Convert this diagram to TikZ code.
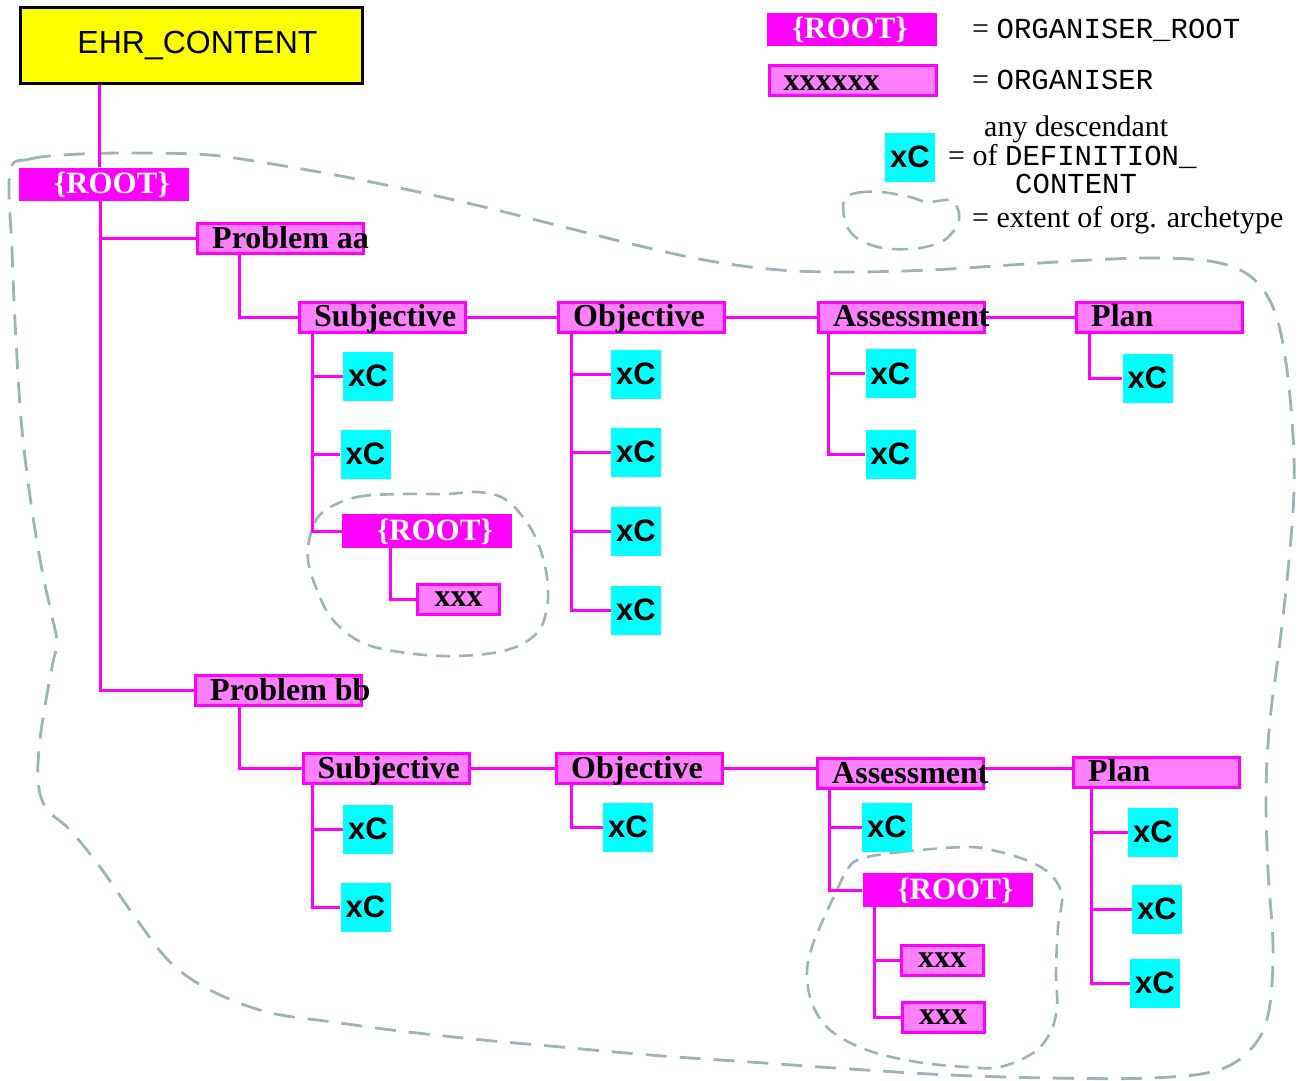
\documentclass[tikz,border=0pt]{standalone}
\usepackage{fontspec}
\setmainfont{Liberation Serif}
\setsansfont{Liberation Sans}
\setmonofont{Liberation Mono}
\definecolor{mag}{HTML}{FF00FF}
\definecolor{orgpink}{HTML}{FF80FF}
\definecolor{dcyan}{HTML}{00FFFF}
\definecolor{ehryellow}{HTML}{FFFF00}
\definecolor{extent}{HTML}{9AB4B8}
\newcommand\legmono{\ttfamily\fontsize{29}{34}\selectfont}

\begin{document}
\begin{tikzpicture}[x=1pt,y=-1pt,
  link/.style={draw=mag, line width=3pt},
  ehrbox/.style={draw=black, line width=3pt, fill=ehryellow, minimum width=342pt,
    minimum height=76pt, inner sep=0pt, font=\sffamily\fontsize{32}{38}\selectfont},
  rootbox/.style={fill=mag, minimum width=170pt, minimum height=33pt, inner sep=0pt},
  rootlbl/.style={anchor=base west, xshift=35pt, yshift=-9pt, inner sep=0pt,
    text=white, font=\rmfamily\bfseries\fontsize{31}{36}\selectfont},
  orgbox/.style={draw=mag, fill=orgpink, line width=3pt, minimum width=166pt,
    minimum height=30pt, inner sep=0pt},
  orglbl/.style={anchor=base west, xshift=16pt, yshift=-9.5pt, inner sep=0pt,
    font=\rmfamily\bfseries\fontsize{32}{36}\selectfont},
  leafbox/.style={draw=mag, fill=orgpink, line width=3pt, minimum width=82pt,
    minimum height=30pt, inner sep=0pt, font=\rmfamily\bfseries\fontsize{32}{36}\selectfont},
  xcbox/.style={fill=dcyan, minimum width=50pt, minimum height=49pt, inner sep=0pt,
    font=\sffamily\bfseries\fontsize{31}{36}\selectfont},
  extentline/.style={draw=extent, line width=2.8pt, dash pattern=on 21pt off 13pt},
  smallextent/.style={draw=extent, line width=2.6pt, dash pattern=on 14pt off 9pt},
  legtxt/.style={anchor=base west, inner sep=0pt, font=\rmfamily\fontsize{30}{34}\selectfont}
]
\useasboundingbox (0,0) rectangle (1303,1080);

% extent of the outer organiser archetype
\draw[extentline] plot[smooth cycle, tension=0.6] coordinates {
  (10,172) (30,159) (80,154) (150,153) (210,155) (260,162) (330,174) (400,188)
  (480,206) (560,226) (640,246) (710,261) (780,270) (850,272) (930,270) (1010,265)
  (1090,260) (1160,258) (1215,262) (1250,276) (1272,305) (1284,350) (1292,420)
  (1294,490) (1288,570) (1279,650) (1270,720) (1266,790) (1268,870) (1273,950)
  (1268,1015) (1250,1050) (1215,1071) (1150,1078) (1050,1078) (950,1075) (850,1069)
  (750,1062) (650,1055) (550,1046) (483,1040) (400,1031) (333,1022) (267,1012)
  (210,990) (170,962) (135,917) (100,867) (70,830) (46,808) (38,780) (40,740)
  (46,700) (53,662) (57,642) (51,612) (42,570) (32,510) (22,430) (16,340) (12,250)};

% extents of the two nested archetypes
\draw[smallextent] plot[smooth cycle, tension=0.6] coordinates {
  (323,512) (357,497) (407,494) (447,494) (477,492) (503,498) (523,517) (538,543)
  (547,577) (547,607) (537,633) (507,650) (457,656) (407,653) (363,643) (333,620)
  (317,590) (308,560) (311,533)};
\draw[smallextent] plot[smooth cycle, tension=0.6] coordinates {
  (860,859) (900,852) (967,847) (1000,852) (1033,863) (1053,877) (1062,897)
  (1058,927) (1056,973) (1057,1007) (1050,1033) (1033,1053) (1000,1067) (967,1067)
  (917,1062) (867,1050) (830,1030) (812,1003) (807,973) (812,947) (823,920)
  (837,890) (847,870)};

% legend
\node[rootbox, label={[rootlbl, xshift=-10pt]west:\{ROOT\}}] (LR) at (852,29) {};
\node[orgbox, minimum width=167pt, label={[orglbl]west:xxxxxx}] (LO) at (852.5,80.5) {};
\node[xcbox] (LX) at (910,157) {xC};
\draw[smallextent, dash pattern=on 16pt off 10pt] plot[smooth cycle, tension=0.6] coordinates {
  (844,200) (856,193) (881,192) (910,197) (927,202) (949,200) (957,207) (959,220)
  (952,233) (941,242) (920,248) (892,249) (871,245) (853,235) (845,220)};
\node[legtxt] (legroot) at (972,38) {= {\legmono ORGANISER\_ROOT}};
\node[legtxt] (legorg) at (972,89) {= {\legmono ORGANISER}};
\node[legtxt] (legdesc1) at (984,136) {any descendant};
\node[legtxt] (legdesc2) at (948,165) {= of {\legmono DEFINITION\_}};
\node[legtxt] (legdesc3) at (1015,193) {\legmono CONTENT};
\node[legtxt] (legext) at (972,227) {= extent of org. archetype};

% top of the tree
\node[ehrbox] (EHR) at (191.5,45.5) {\hspace*{12pt}EHR\_CONTENT};
\node[rootbox, label={[rootlbl]west:\{ROOT\}}] (R0) at (104,184) {};
\node[orgbox, label={[orglbl]west:Problem aa}] (Pa) at (280.5,238.5) {};
\node[orgbox, label={[orglbl]west:Problem bb}] (Pb) at (278.5,690.5) {};

% first problem
\node[orgbox, label={[orglbl]west:Subjective}] (S1) at (382.5,317) {};
\node[orgbox, label={[orglbl]west:Objective}] (O1) at (641.5,317) {};
\node[orgbox, label={[orglbl]west:Assessment}] (A1) at (901.5,317) {};
\node[orgbox, label={[orglbl]west:Plan}] (P1) at (1159.5,317) {};
\node[xcbox] (s1a) at (368,376) {xC};
\node[xcbox] (s1b) at (365.5,454) {xC};
\node[rootbox, minimum height=34pt, label={[rootlbl]west:\{ROOT\}}] (R1) at (427,531) {};
\node[leafbox] (X1) at (458.5,599) {xxx};
\node[xcbox] (o1a) at (636,374) {xC};
\node[xcbox] (o1b) at (636,452) {xC};
\node[xcbox] (o1c) at (636,531) {xC};
\node[xcbox] (o1d) at (636,610) {xC};
\node[xcbox] (a1a) at (890.5,373.5) {xC};
\node[xcbox] (a1b) at (890.5,454) {xC};
\node[xcbox] (p1a) at (1147.5,378) {xC};

% second problem
\node[orgbox, label={[orglbl]west:Subjective}] (S2) at (386,768.5) {};
\node[orgbox, label={[orglbl]west:Objective}] (O2) at (639.5,768.5) {};
\node[orgbox, label={[orglbl]west:Assessment}] (A2) at (900.5,773.5) {};
\node[orgbox, label={[orglbl]west:Plan}] (P2) at (1156.5,772) {};
\node[xcbox] (s2a) at (368,829) {xC};
\node[xcbox] (s2b) at (365.5,907) {xC};
\node[xcbox] (o2a) at (628,827) {xC};
\node[xcbox] (a2a) at (887,827) {xC};
\node[rootbox, minimum height=34pt, label={[rootlbl]west:\{ROOT\}}] (R2) at (947.5,890) {};
\node[leafbox] (X2) at (942,960) {xxx};
\node[leafbox] (X3) at (943,1017) {xxx};
\node[xcbox] (p2a) at (1153,832) {xC};
\node[xcbox] (p2b) at (1157,909) {xC};
\node[xcbox] (p2c) at (1155,983) {xC};

% trunk points below each parent
\coordinate (tE)  at ([xshift=80pt]EHR.south west);
\coordinate (t0)  at ([xshift=82pt]R0.south west);
\coordinate (tPa) at ([xshift=43.5pt]Pa.south west);
\coordinate (tPb) at ([xshift=45.5pt]Pb.south west);
\coordinate (tS1) at ([xshift=14.5pt]S1.south west);
\coordinate (tO1) at ([xshift=14.5pt]O1.south west);
\coordinate (tA1) at ([xshift=11.5pt]A1.south west);
\coordinate (tP1) at ([xshift=14.5pt]P1.south west);
\coordinate (tR1) at ([xshift=49pt]R1.south west);
\coordinate (tS2) at ([xshift=11pt]S2.south west);
\coordinate (tO2) at ([xshift=16.5pt]O2.south west);
\coordinate (tA2) at ([xshift=13.5pt]A2.south west);
\coordinate (tP2) at ([xshift=19.5pt]P2.south west);
\coordinate (tR2) at ([xshift=12.5pt]R2.south west);

% connectors
\draw[link] (tE) -- (tE |- R0.north);
\draw[link] (t0) |- (Pa.west);
\draw[link] (t0) |- (Pb.west);
\draw[link] (tPa) |- (S1.west);
\draw[link] (S1) -- (O1);
\draw[link] (O1) -- (A1);
\draw[link] (A1) -- (P1);
\draw[link] (tS1) |- (s1a.west);
\draw[link] (tS1) |- (s1b.west);
\draw[link] (tS1) |- (R1.west);
\draw[link] (tR1) |- (X1.west);
\draw[link] (tO1) |- (o1a.west);
\draw[link] (tO1) |- (o1b.west);
\draw[link] (tO1) |- (o1c.west);
\draw[link] (tO1) |- (o1d.west);
\draw[link] (tA1) |- (a1a.west);
\draw[link] (tA1) |- (a1b.west);
\draw[link] (tP1) |- (p1a.west);

\draw[link] (tPb) |- (S2.west);
\draw[link] (S2) -- (O2);
\draw[link] (O2.east) -- (O2.east -| A2.west);
\draw[link] (A2.east |- O2.east) -- (P2.west |- O2.east);
\draw[link] (tS2) |- (s2a.west);
\draw[link] (tS2) |- (s2b.west);
\draw[link] (tO2) |- (o2a.west);
\draw[link] (tA2) |- (a2a.west);
\draw[link] (tA2) |- (R2.west);
\draw[link] (tR2) |- (X2.west);
\draw[link] (tR2) |- (X3.west);
\draw[link] (tP2) |- (p2a.west);
\draw[link] (tP2) |- (p2b.west);
\draw[link] (tP2) |- (p2c.west);
\end{tikzpicture}
\end{document}
